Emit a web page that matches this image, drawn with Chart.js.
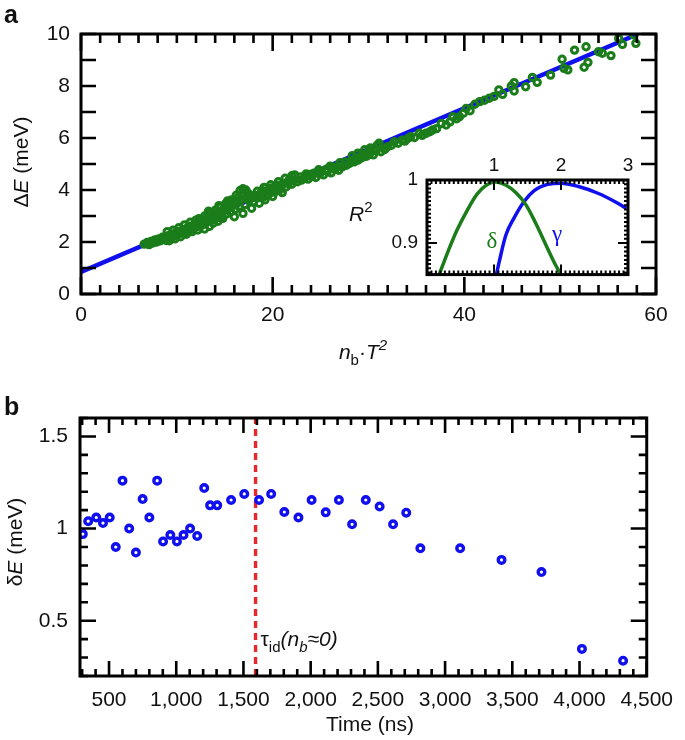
<!DOCTYPE html>
<html>
<head>
<meta charset="utf-8">
<script src="https://cdn.jsdelivr.net/npm/chart.js@4.4.1/dist/chart.umd.min.js"></script>
<style>
  body { margin: 0; background: #fff; }
  #wrap { position: relative; width: 685px; height: 740px; }
  canvas { position: absolute; }
</style>
</head>
<body>
<div id="wrap">
  <canvas id="chartA" width="685" height="375" style="left:0;top:0"></canvas>
  <canvas id="inset" width="260" height="155" style="left:380px;top:140px"></canvas>
  <canvas id="chartB" width="685" height="360" style="left:0;top:380px"></canvas>
</div>
<script>
// ---- panel a: ΔE vs n_b·T^2 ----
const nbT2 = [6.6, 6.9, 7.1, 7.3, 7.5, 7.7, 7.9, 8.1, 8.3, 8.5, 8.7, 8.9, 9.1, 9.2, 9.3, 9.5, 9.7, 9.8, 9.9,
  10.1, 10.3, 10.4, 10.5, 10.7, 10.9, 11.0, 11.1, 11.3, 11.5, 11.6, 11.7, 11.9, 12.1, 12.2, 12.3, 12.4, 12.6,
  12.8, 12.9, 12.9, 13.0, 13.2, 13.4, 13.5, 13.6, 13.8, 13.9, 14.0, 14.1, 14.3, 14.3, 14.5, 14.6, 14.7, 14.8,
  15.0, 15.1, 15.2, 15.4, 15.6, 15.7, 15.8, 16.0, 16.1, 16.2, 16.3, 16.5, 16.6, 16.7, 16.9, 16.9, 17.0, 17.1,
  17.2, 17.3, 17.5, 17.6, 17.8, 17.9, 18.2, 18.4, 18.6, 18.7, 19.0, 19.1, 19.2, 19.3, 19.6, 19.8, 19.9, 20.0,
  20.2, 20.5, 20.6, 20.8, 21.0, 21.1, 21.3, 21.4, 21.7, 22.0, 22.0, 22.3, 22.6, 23.0, 23.3, 23.5, 23.7, 24.1,
  24.5, 24.8, 24.9, 25.3, 25.7, 26.0, 26.1, 26.5, 26.9, 27.0, 27.3, 27.7, 28.0, 28.2, 28.3, 28.5, 28.9, 28.9,
  29.2, 29.5, 29.6, 29.8, 30.1, 30.2, 30.5, 30.8, 30.9, 31.1, 31.3, 31.7, 32.0, 32.4, 32.7, 33.1, 33.5, 33.8,
  34.1, 34.4, 34.8, 35.3, 35.6, 36.0, 36.4, 36.7, 37.1, 37.6, 38.1, 38.5, 38.8, 39.2, 39.5, 39.9, 40.2, 40.6,
  41.1, 41.6, 42.1, 42.6, 43.1, 43.6, 44.0, 44.9, 45.2, 45.2, 46.4, 47.1, 47.6, 49.0, 50.2, 50.4, 50.8, 51.5,
  52.5, 52.7, 52.9, 54.0, 54.4, 55.3, 56.1, 56.5, 57.7, 57.9,
  9.4, 10.0, 10.6, 11.2, 11.8, 12.5, 13.1, 13.7, 14.2, 14.9, 15.5, 16.0, 16.4, 16.8, 17.4, 18.0, 18.5, 19.4,
  20.3, 20.9, 21.6, 22.2, 22.9, 23.6, 24.3, 25.0, 25.6, 26.3, 27.0, 27.6, 28.6, 29.3, 30.0, 30.6,
  9.0, 9.6, 10.2, 10.8, 11.4, 12.0, 13.3, 14.4, 15.3, 18.9, 19.7, 21.9, 23.9, 26.7];
const deltaE = [1.92, 1.98, 1.90, 2.02, 1.96, 2.08, 2.00, 2.12, 2.05, 2.18, 2.10, 2.06, 2.24, 2.05, 2.16, 2.30, 2.22, 2.12, 2.36,
  2.28, 2.42, 2.20, 2.34, 2.48, 2.40, 2.30, 2.55, 2.46, 2.62, 2.40, 2.52, 2.68, 2.58, 2.46, 2.90, 2.74, 2.65,
  2.82, 2.50, 3.00, 2.72, 2.88, 2.60, 3.12, 2.96, 2.72, 2.86, 3.22, 3.04, 2.94, 2.80, 3.12, 3.35, 3.00, 2.91,
  3.22, 3.48, 3.08, 3.30, 3.16, 3.62, 3.40, 2.97, 3.26, 3.80, 3.52, 3.36, 3.98, 3.64, 3.10, 4.05, 3.78, 3.44,
  4.00, 3.92, 3.60, 3.82, 3.30, 3.70, 3.78, 3.95, 3.49, 3.86, 3.72, 4.10, 3.62, 3.95, 3.84, 4.20, 4.08, 3.75,
  3.92, 4.18, 4.32, 4.02, 3.90, 4.25, 4.45, 4.12, 4.38, 4.22, 4.55, 4.58, 4.32, 4.38, 4.45, 4.62, 4.42, 4.52,
  4.48, 4.78, 4.62, 4.58, 4.70, 4.92, 4.66, 4.80, 4.76, 5.05, 4.90, 4.95, 5.02, 5.10, 5.32, 5.08, 5.15, 5.42,
  5.22, 5.28, 5.55, 5.30, 5.38, 5.62, 5.35, 5.50, 5.72, 5.80, 5.47, 5.56, 5.67, 5.72, 5.86, 5.80, 5.92, 5.88,
  5.98, 6.05, 6.02, 6.18, 6.10, 6.18, 6.24, 6.31, 6.36, 6.56, 6.50, 6.62, 6.82, 6.74, 6.82, 6.95, 7.14, 7.05,
  7.30, 7.40, 7.45, 7.53, 7.60, 7.85, 7.68, 8.00, 8.13, 7.81, 7.97, 8.33, 8.14, 8.42, 9.03, 8.68, 8.62, 9.38,
  8.72, 9.51, 8.91, 9.32, 9.26, 9.17, 9.83, 9.60, 9.96, 9.64,
  2.20, 2.28, 2.40, 2.50, 2.62, 2.78, 2.92, 3.05, 3.15, 3.28, 3.42, 3.55, 3.70, 3.85, 3.72, 3.55, 3.70, 3.80,
  4.05, 4.15, 4.25, 4.35, 4.50, 4.55, 4.65, 4.70, 4.80, 4.88, 4.92, 5.08, 5.22, 5.38, 5.48, 5.60,
  2.40, 2.45, 2.55, 2.66, 2.76, 2.84, 3.18, 3.40, 3.58, 3.98, 4.00, 4.42, 4.60, 4.88];
const fitX = [0, 58];
const fitY = [0.85, 9.98];
const xTicksA = [0, 20, 40, 60];
const yTicksA = [0, 2, 4, 6, 8, 10];

// ---- inset: R^2 vs exponent ----
const deltaExp = [0.175, 0.30, 0.45, 0.60, 0.75, 0.90, 1.025, 1.175, 1.325, 1.475, 1.625, 1.775, 1.925, 1.99];
const r2Delta = [0.848, 0.883, 0.921, 0.952, 0.978, 0.993, 0.997, 0.992, 0.980, 0.961, 0.931, 0.897, 0.864, 0.852];
const gammaExp = [1.025, 1.075, 1.175, 1.30, 1.45, 1.60, 1.80, 2.0, 2.25, 2.55, 2.80, 2.975];
const r2Gamma = [0.845, 0.869, 0.912, 0.940, 0.966, 0.983, 0.993, 0.995, 0.990, 0.979, 0.966, 0.955];
const xTicksInset = [1, 2, 3];
const yTicksInset = [0.9, 1];

// ---- panel b: δE vs time ----
const timeNs = [305, 345, 405, 455, 505, 550, 600, 650, 700, 750, 800, 858, 902, 956, 1005, 1054, 1103, 1156,
  1208, 1252, 1305, 1408, 1506, 1616, 1706, 1804, 1909, 2007, 2112, 2210, 2308, 2410, 2513, 2613, 2711, 2816,
  3112, 3420, 3717, 4018, 4324];
const widthMeV = [0.97, 1.04, 1.06, 1.03, 1.06, 0.90, 1.26, 1.00, 0.87, 1.16, 1.06, 1.26, 0.93, 0.965, 0.93, 0.965,
  1.00, 0.96, 1.22, 1.126, 1.126, 1.155, 1.188, 1.155, 1.188, 1.09, 1.06, 1.155, 1.088, 1.155, 1.023, 1.155,
  1.12, 1.023, 1.086, 0.893, 0.893, 0.83, 0.764, 0.347, 0.283];
const tauId = 1590;
const xTicksB = [500, 1000, 1500, 2000, 2500, 3000, 3500, 4000, 4500];
const yTicksB = [0.5, 1, 1.5];

const FONT = "'Liberation Sans', Arial, sans-serif";
const SERIF = "'Liberation Serif', 'DejaVu Serif', serif";
const GREEN = '#1a7d1a';
const BLUE = '#1010ee';
Chart.defaults.font.family = FONT;
Chart.defaults.color = '#111';

// text with italic / sub / superscript pieces, y is the baseline
function drawRich(ctx, parts, x, y, size, align) {
  ctx.save();
  ctx.textBaseline = 'alphabetic';
  ctx.textAlign = 'left';
  const fontFor = p => (p.i ? 'italic ' : '') + (p.b ? 'bold ' : '') +
    Math.round((p.sub || p.sup) ? size * 0.7 : size) + 'px ' + (p.f || FONT);
  let w = 0;
  parts.forEach(p => { ctx.font = fontFor(p); p.w = ctx.measureText(p.t).width; w += p.w; });
  let cx = align === 'center' ? x - w / 2 : x;
  parts.forEach(p => {
    ctx.font = fontFor(p);
    ctx.fillStyle = p.c || '#111';
    const dy = p.sub ? size * 0.28 : (p.sup ? -size * 0.42 : 0);
    ctx.fillText(p.t, cx, y + dy);
    cx += p.w;
  });
  ctx.restore();
}

// inward ticks on all four sides plus the box
const framePlugin = {
  id: 'frame',
  beforeDatasetsDraw(chart, args, o) {
    if (!o.fill) return;
    const a = chart.chartArea;
    chart.ctx.save();
    chart.ctx.fillStyle = o.fill;
    chart.ctx.fillRect(a.left, a.top, a.right - a.left, a.bottom - a.top);
    chart.ctx.restore();
  },
  afterDraw(chart, args, o) {
    const { ctx, chartArea: a } = chart;
    const sx = chart.scales.x, sy = chart.scales.y;
    ctx.save();
    ctx.strokeStyle = '#000';
    ctx.lineWidth = o.tickWidth;
    const each = (scale, t, fn) => {
      for (let i = Math.ceil(scale.min / t.minor - 1e-6); i * t.minor <= scale.max + 1e-9; i++) {
        const v = i * t.minor;
        const r = v / t.major;
        const len = Math.abs(r - Math.round(r)) < 1e-6 ? t.majorLen : t.minorLen;
        fn(scale.getPixelForValue(v), len);
      }
    };
    ctx.beginPath();
    each(sx, o.x, (p, len) => {
      ctx.moveTo(p, a.bottom); ctx.lineTo(p, a.bottom - len);
      ctx.moveTo(p, a.top); ctx.lineTo(p, a.top + len);
    });
    each(sy, o.y, (p, len) => {
      ctx.moveTo(a.left, p); ctx.lineTo(a.left + len, p);
      ctx.moveTo(a.right, p); ctx.lineTo(a.right - len, p);
    });
    ctx.stroke();
    ctx.lineWidth = o.frameWidth;
    ctx.strokeRect(a.left, a.top, a.right - a.left, a.bottom - a.top);
    ctx.restore();
    if (o.text) o.text(ctx, chart);
  }
};
Chart.register(framePlugin);

const pts = (xs, ys) => xs.map((x, i) => ({ x: x, y: ys[i] }));
const fixedTicks = arr => s => { s.ticks = arr.map(v => ({ value: v })); };
const hiddenGrid = { display: false, drawTicks: false };
const plain = v => String(v);

// panel a
new Chart(document.getElementById('chartA'), {
  type: 'scatter',
  data: {
    datasets: [
      { data: pts(nbT2, deltaE), borderColor: GREEN, backgroundColor: 'rgba(0,0,0,0)',
        pointRadius: 3.2, borderWidth: 3, order: 1 },
      { data: pts(fitX, fitY), showLine: true, borderColor: BLUE, borderWidth: 4.5,
        pointRadius: 0, order: 2 }
    ]
  },
  options: {
    responsive: false,
    animation: false,
    events: [],
    layout: { padding: { top: 34, right: 29, left: 0, bottom: 0 } },
    plugins: {
      legend: { display: false },
      tooltip: { enabled: false },
      frame: {
        tickWidth: 2.6, frameWidth: 3,
        x: { minor: 2, major: 20, minorLen: 9, majorLen: 17 },
        y: { minor: 1, major: 1, minorLen: 15, majorLen: 15 },
        text: ctx => {
          drawRich(ctx, [{ t: 'a', b: true }], 4, 23, 25);
          ctx.save();
          ctx.translate(28, 162);
          ctx.rotate(-Math.PI / 2);
          drawRich(ctx, [{ t: 'Δ' }, { t: 'E', i: true }, { t: ' (meV)' }], 0, 0, 21, 'center');
          ctx.restore();
          drawRich(ctx, [{ t: 'n', i: true }, { t: 'b', sub: true }, { t: '·' }, { t: 'T', i: true }, { t: '2', i: true, sup: true }],
            363, 359, 21, 'center');
          drawRich(ctx, [{ t: 'R', i: true }, { t: '2', sup: true }], 349, 221, 21);
        }
      }
    },
    scales: {
      x: {
        type: 'linear', min: 0, max: 60,
        afterBuildTicks: fixedTicks(xTicksA),
        afterFit: s => { s.height = 81; },
        grid: hiddenGrid, border: { display: false },
        ticks: { font: { size: 21 }, padding: 9, maxRotation: 0, callback: plain }
      },
      y: {
        type: 'linear', min: 0, max: 10,
        afterBuildTicks: fixedTicks(yTicksA),
        afterFit: s => { s.width = 81; },
        grid: hiddenGrid, border: { display: false },
        ticks: { font: { size: 21 }, padding: 11, callback: plain }
      }
    }
  }
});

// inset
new Chart(document.getElementById('inset'), {
  type: 'scatter',
  data: {
    datasets: [
      { data: pts(deltaExp, r2Delta), showLine: true, borderColor: GREEN, borderWidth: 3.5,
        pointRadius: 0, cubicInterpolationMode: 'monotone' },
      { data: pts(gammaExp, r2Gamma), showLine: true, borderColor: BLUE, borderWidth: 3.5,
        pointRadius: 0, cubicInterpolationMode: 'monotone' }
    ]
  },
  options: {
    responsive: false,
    animation: false,
    events: [],
    layout: { padding: { top: 0, right: 12, left: 0, bottom: 8 } },
    plugins: {
      legend: { display: false },
      tooltip: { enabled: false },
      frame: {
        fill: '#fff', tickWidth: 2, frameWidth: 3,
        x: { minor: 1 / 15, major: 1, minorLen: 4, majorLen: 10 },
        y: { minor: 0.1 / 15, major: 0.1, minorLen: 4, majorLen: 10 },
        text: ctx => {
          drawRich(ctx, [{ t: 'δ', f: SERIF, c: GREEN }], 112, 108, 23, 'center');
          drawRich(ctx, [{ t: 'γ', f: SERIF, c: BLUE }], 177, 101, 23, 'center');
        }
      }
    },
    scales: {
      x: {
        type: 'linear', position: 'top', min: 0, max: 3,
        afterBuildTicks: fixedTicks(xTicksInset),
        afterFit: s => { s.height = 40; },
        grid: hiddenGrid, border: { display: false },
        ticks: { font: { size: 19 }, padding: 3, maxRotation: 0, callback: plain }
      },
      y: {
        type: 'linear', min: 0.85, max: 1.0,
        afterBuildTicks: fixedTicks(yTicksInset),
        afterFit: s => { s.width = 47; },
        grid: hiddenGrid, border: { display: false },
        ticks: { font: { size: 19 }, padding: 9, callback: plain }
      }
    }
  }
});

// panel b
new Chart(document.getElementById('chartB'), {
  type: 'scatter',
  data: {
    datasets: [
      { data: pts(timeNs, widthMeV), borderColor: BLUE, backgroundColor: 'rgba(0,0,0,0)',
        pointRadius: 3.3, borderWidth: 3.4, order: 1 },
      { data: [{ x: tauId, y: 0.2 }, { x: tauId, y: 1.6 }], showLine: true, borderColor: '#e8262c',
        borderWidth: 3.4, borderDash: [7, 5], pointRadius: 0, order: 2 }
    ]
  },
  options: {
    responsive: false,
    animation: false,
    events: [],
    layout: { padding: { top: 38, right: 30, left: 0, bottom: 0 } },
    plugins: {
      legend: { display: false },
      tooltip: { enabled: false },
      frame: {
        tickWidth: 2.6, frameWidth: 3,
        x: { minor: 100, major: 500, minorLen: 7, majorLen: 15 },
        y: { minor: 0.1, major: 0.5, minorLen: 8, majorLen: 16 },
        text: (ctx, chart) => {
          drawRich(ctx, [{ t: 'b', b: true }], 4, 35, 25);
          ctx.save();
          ctx.translate(22, 162);
          ctx.rotate(-Math.PI / 2);
          drawRich(ctx, [{ t: 'δ' }, { t: 'E', i: true }, { t: ' (meV)' }], 0, 0, 21, 'center');
          ctx.restore();
          drawRich(ctx, [{ t: 'Time (ns)' }], 370, 351, 21, 'center');
          const px = chart.scales.x.getPixelForValue(tauId);
          drawRich(ctx, [{ t: 'τ' }, { t: 'id', sub: true }, { t: '(', i: true }, { t: 'n', i: true },
            { t: 'b', i: true, sub: true }, { t: '≈0)', i: true }], px + 5, 266, 21);
        }
      }
    },
    scales: {
      x: {
        type: 'linear', min: 284, max: 4500,
        afterBuildTicks: fixedTicks(xTicksB),
        afterFit: s => { s.height = 64; },
        grid: hiddenGrid, border: { display: false },
        ticks: { font: { size: 21 }, padding: 12, maxRotation: 0,
          callback: v => v.toLocaleString('en-US') }
      },
      y: {
        type: 'linear', min: 0.2, max: 1.6,
        afterBuildTicks: fixedTicks(yTicksB),
        afterFit: s => { s.width = 80; },
        grid: hiddenGrid, border: { display: false },
        ticks: { font: { size: 21 }, padding: 12, callback: plain }
      }
    }
  }
});
</script>
</body>
</html>
